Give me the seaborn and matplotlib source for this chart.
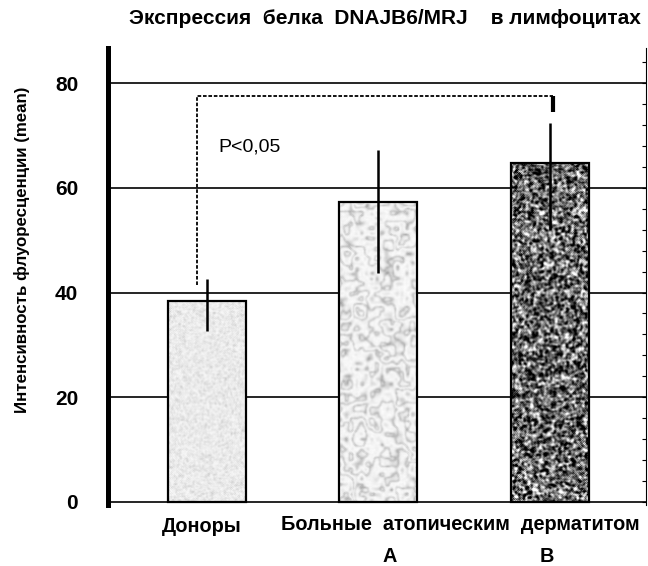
import numpy as np
import pandas as pd
import matplotlib
matplotlib.use("Agg")
import matplotlib.pyplot as plt
import matplotlib.transforms as mtransforms
import seaborn as sns

# ---- data ----
groups = ["Доноры", "A", "B"]
means = [38.4, 57.2, 64.8]
err_low = [5.7, 13.5, 12.9]
err_high = [4.2, 10.0, 7.6]
yticks = [0, 20, 40, 60, 80]
title = "Экспрессия  белка  DNAJB6/MRJ    в лимфоцитах"
ylabel = "Интенсивность флуоресценции (mean)"
group_caption = "Больные  атопическим  дерматитом"
p_text = "P<0,05"
sig_level = 77.6

sns.set_theme(style="white")
plt.rcParams["font.family"] = ["Liberation Sans", "DejaVu Sans"]
for key in ["text.color", "axes.labelcolor", "xtick.color", "ytick.color", "axes.edgecolor"]:
    plt.rcParams[key] = "black"

df = pd.DataFrame({"group": groups, "mean": means})

fig = plt.figure(figsize=(6.48, 5.66), dpi=100)
ax = fig.add_axes([108 / 648, 1 - 504.6 / 566, 538 / 648, 456.6 / 566])

sns.barplot(data=df, x="group", y="mean", color="white", errorbar=None,
            edgecolor="black", linewidth=1.6, width=0.455, ax=ax, zorder=2)


# ---- texture helpers (fill styling only) ----
def hnoise(h, w, seed):
    i, j = np.mgrid[0:h, 0:w]
    v = np.sin(i * 12.9898 + j * 78.233 + seed * 37.719) * 43758.5453
    return v - np.floor(v)


def blur(a, n=1):
    for _ in range(n):
        a = (a + np.roll(a, 1, 0) + np.roll(a, -1, 0) + np.roll(a, 1, 1) + np.roll(a, -1, 1)) / 5.0
    return a


def smooth_noise(h, w, seed, cell):
    gh, gw = h // cell + 2, w // cell + 2
    g = hnoise(gh, gw, seed)
    big = np.kron(g, np.ones((cell, cell)))[:h, :w]
    return blur(big, cell)


def texture(kind, h, w):
    if kind == 0:
        n = hnoise(h, w, 1)
        t = 0.97 - 0.22 * n ** 3
        return blur(t, 1)
    if kind == 1:
        i, j = np.mgrid[0:h, 0:w]
        s = smooth_noise(h, w, 2, 14) + 0.6 * smooth_noise(h, w, 5, 5)
        veins = np.abs(np.sin(0.05 * (j + 1.3 * i) + 7 * s))
        t = 0.5 + 0.5 * veins ** 0.25
        t = t - 0.06 * hnoise(h, w, 3)
        return np.clip(blur(t, 1), 0, 1)
    n = blur(hnoise(h, w, 4), 2)
    return np.clip(0.42 + 3.2 * (n - 0.5), 0, 1)


for k, p in enumerate(ax.patches):
    x0, w, hgt = p.get_x(), p.get_width(), p.get_height()
    hp, wp = int(hgt * 5.24), 78
    img = texture(k, hp, wp)
    ax.imshow(img, cmap="gray", vmin=0, vmax=1, extent=(x0, x0 + w, 0, hgt),
              origin="lower", aspect="auto", interpolation="bilinear", zorder=1.5)
    p.set_facecolor("none")
    p.set_zorder(2.5)

ax.errorbar(x=np.arange(len(groups)), y=means, yerr=[err_low, err_high], fmt="none",
            ecolor="black", elinewidth=1.8, capsize=0, zorder=4)

ax.set_xlim(-0.574, 2.559)
ax.set_ylim(-0.5, 86.7)

# axes styling
ax.set_yticks(yticks)
ax.grid(axis="y", color="black", linewidth=1.2)
ax.grid(axis="x", visible=False)
ax.set_axisbelow(True)
for s in ["top", "bottom"]:
    ax.spines[s].set_visible(False)
ax.spines["left"].set_linewidth(3.6)
ax.spines["left"].set_color("black")
ax.spines["right"].set_visible(False)
ax.tick_params(axis="y", which="major", direction="out", length=13, width=1.2,
               color="black", pad=8.5, labelsize=15, labelcolor="black")
for lab in ax.get_yticklabels():
    lab.set_fontweight("bold")
ax.set_ylabel("")
ax.set_xlabel("")

sec = ax.secondary_yaxis("right")
sec.set_yticks(np.arange(0, 87, 4))
sec.tick_params(direction="in", length=3, width=0.8, labelright=False, color="black")
sec.spines["right"].set_linewidth(0.8)
sec.spines["right"].set_color("black")

# x labels
ax.set_xticks(range(len(groups)))
ax.set_xticklabels(groups, fontsize=14.3, fontweight="bold", color="black")
ax.tick_params(axis="x", length=0, pad=9)
offsets = [(-0.045, 0.0), (0.11, -0.30), (-0.03, -0.30)]
for lab, (dx, dy) in zip(ax.get_xticklabels(), offsets):
    lab.set_transform(lab.get_transform() + mtransforms.ScaledTranslation(dx, dy, fig.dpi_scale_trans))

blend = mtransforms.blended_transform_factory(ax.transData, fig.transFigure)
ax.text(1.48, 1 - 525 / 566, group_caption, transform=blend, ha="center", va="center",
        fontsize=14.3, fontweight="bold", color="black")

# significance bracket
bx0 = -0.055
bx1 = 2.017
ax.plot([bx0, bx0, bx1], [means[0] + err_high[0] - 1.2, sig_level, sig_level],
        color="black", linewidth=1.3, linestyle=(0, (2, 1.0)), zorder=3)
ax.plot([bx1, bx1], [sig_level, sig_level - 3.1], color="black", linewidth=3, zorder=3,
        solid_capstyle="butt")
ax.text(0.067, 67.8, p_text, fontsize=14, va="center", ha="left", color="black")

fig.text(385 / 648, 1 - 18 / 566, title, ha="center", va="center", fontsize=15,
         fontweight="bold", color="black")
fig.text(22 / 648, 1 - 250 / 566, ylabel, rotation=90, ha="center", va="center",
         fontsize=12.2, fontweight="bold", color="black")

fig.savefig("out.png", dpi=100)
